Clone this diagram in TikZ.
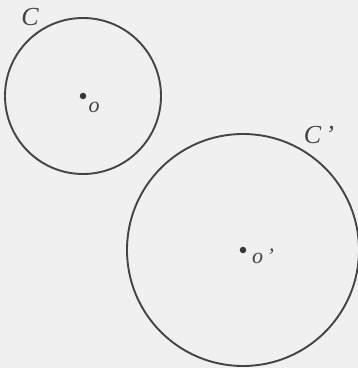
\documentclass[tikz,border=0pt]{standalone}
\usepackage{fontspec}
\setmainfont{Liberation Serif}
\definecolor{bg}{HTML}{F0F0F0}
\definecolor{ink}{HTML}{444444}
\tikzset{
  ring/.style={circle, draw=ink, line width=1.9pt, inner sep=0pt},
  ctr/.style={circle, fill=ink!80!black, inner sep=0pt, minimum size=6.5pt},
  lbl/.style={text=ink, font=\fontsize{26}{26}\selectfont\itshape, inner sep=0pt},
  sml/.style={text=ink, font=\fontsize{22}{22}\selectfont\itshape, inner sep=0pt}
}
\begin{document}
\begin{tikzpicture}[x=1pt,y=1pt]
\fill[bg] (0,0) rectangle (358,368);
\useasboundingbox (0,0) rectangle (358,368);
\node[ring, minimum size=156pt] (c1) at (83,272) {};
\node[ring, minimum size=232pt] (c2) at (243,118) {};
\node[ctr] (o1) at (c1.center) {};
\node[ctr] (o2) at (c2.center) {};
\node[lbl] (L1) at (30,351) {C};
\node[lbl] (L2) at (319,233) {C\,'};
\node[sml] (l1) at (94,261) {o};
\node[sml] (l2) at (263,112) {o\,'};
\end{tikzpicture}
\end{document}
